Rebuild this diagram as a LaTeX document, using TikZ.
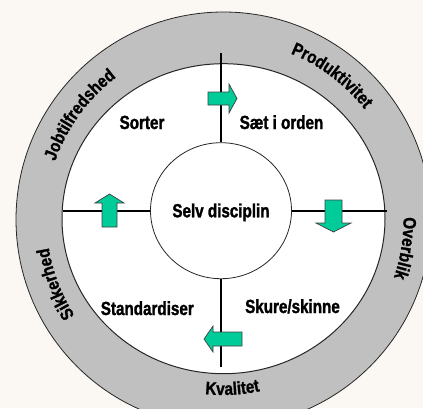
\documentclass[tikz,border=0pt]{standalone}
\usepackage{fontspec}
\setmainfont{Liberation Sans}
\newfontfamily\labfam[FakeStretch=0.8, FakeBold=1.5]{Liberation Sans Bold}
\newfontfamily\ringfam[FakeStretch=0.85, FakeBold=1.2]{Liberation Sans Bold}
\newcommand\ringfont{\ringfam\fontsize{18}{20}\selectfont}
\usetikzlibrary{decorations.text, shapes.geometric}
\definecolor{bgc}{RGB}{251,248,243}
\definecolor{ringgray}{RGB}{192,192,192}
\definecolor{agreen}{RGB}{0,204,153}
\begin{document}
\begin{tikzpicture}[x=1pt,y=1pt,
  lab/.style={font=\labfam\fontsize{19}{22}\selectfont, inner sep=0pt, anchor=base},
  crossline/.style={line width=1.6pt, black},
  arr/.style={fill=agreen, draw=black!75, line width=0.7pt, line join=miter},
  ringtext/.style={decorate, decoration={text along path, text align=center, text={|\ringfont|#1}}},
  pics/garrow/.style n args={4}{code={
    \draw[arr] (-#1/2,-#2) -- (#1/2-#4,-#2) -- (#1/2-#4,-#3) -- (#1/2,0)
      -- (#1/2-#4,#3) -- (#1/2-#4,#2) -- (-#1/2,#2) -- cycle;}}
]
\useasboundingbox (0,0) rectangle (423,408);
\fill[bgc] (0,0) rectangle (423,408);
\clip (0,0) rectangle (423,408);

% rings
\node[circle, draw=black!85, line width=0.8pt, fill=ringgray, minimum size=415, inner sep=0pt] (ring) at (223.5,188.5) {};
\node[ellipse, draw=black!85, line width=1pt, fill=white, minimum width=323, minimum height=310, inner sep=0pt] (field) at (223.5,189.3) {};
\node[ellipse, draw=black!85, line width=0.8pt, fill=white, minimum width=141, minimum height=136, inner sep=0pt] (core) at (221,197.3) {};

% cross
\coordinate (vt) at (221,354.7);
\coordinate (vb) at (221,41);
\coordinate (hl) at (63,197.3);
\coordinate (hr) at (387,197.3);
\draw[crossline] (vt) -- (core.north);
\draw[crossline] (core.south) -- (vb);
\draw[crossline] (hl) -- (core.west);
\draw[crossline] (core.east) -- (hr);

% arrows
\pic (atop) at (222.5,309.5) {garrow={29}{6.5}{14.5}{8}};
\pic[rotate=-90] (aright) at (333.5,192) {garrow={32}{8.5}{17.5}{9}};
\pic[rotate=180] (abot) at (223,69) {garrow={38}{7}{13}{9}};
\pic[rotate=90] (aleft) at (109.5,197.5) {garrow={33}{7.5}{14.5}{9}};

% labels
\node[lab] (selv) at (221,190.7) {Selv disciplin};
\node[lab] (sorter) at (142,279) {Sorter};
\node[lab] (saet) at (281.5,279) {Sæt i orden};
\node[lab] (stand) at (147.3,93) {Standardiser};
\node[lab] (skure) at (292.5,95) {Skure/skinne};

% ring texts
\path[ringtext=Produktivitet] ([shift={(90:179)}]ring.center) arc[start angle=90, end angle=16, radius=179];
\path[ringtext=Overblik] ([shift={(26:180)}]ring.center) arc[start angle=26, end angle=-44, radius=180];
\path[ringtext=Kvalitet] ([shift={(-117:175.5)}]ring.center) arc[start angle=-117, end angle=-57, radius=175.5];
\path[ringtext=Sikkerhed] ([shift={(236:177)}]ring.center) arc[start angle=236, end angle=166, radius=177];
\path[ringtext=Jobtilfredshed] ([shift={(184:178)}]ring.center) arc[start angle=184, end angle=104, radius=178];
\end{tikzpicture}
\end{document}
